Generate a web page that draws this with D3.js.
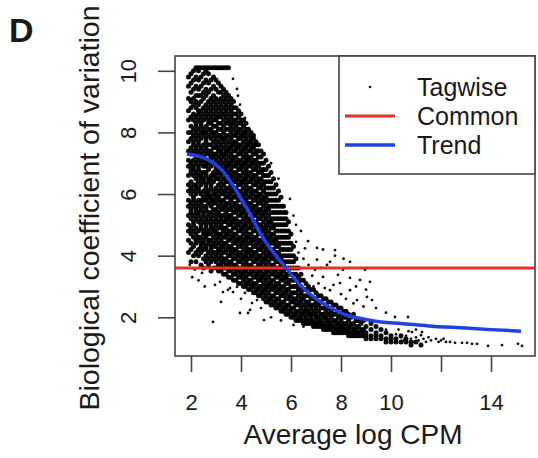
<!DOCTYPE html>
<html><head><meta charset="utf-8">
<script src="https://cdn.jsdelivr.net/npm/d3@7"></script>
<style>
body{margin:0;background:#fff}
svg{display:block}
text{font-family:"Liberation Sans",Arial,Helvetica,sans-serif;fill:#1a1a1a}
</style>
</head><body>
<svg id="chart" width="538" height="458"></svg>
<script>
// ---------- data ----------
const panelLabel = "D";
const xTitle = "Average log CPM";
const yTitle = "Biological coefficient of variation";
const xTicks = [2, 4, 6, 8, 10, 12, 14];
const xTickLabels = ["2", "4", "6", "8", "10", "", "14"];
const yTicks = [2, 4, 6, 8, 10];
const yTickLabels = ["2", "4", "6", "8", "10"];
const xLimits = [1.36, 15.76];
const yLimits = [0.744, 10.48];
const legendLabels = ["Tagwise", "Common", "Trend"];

const commonBCV = 3.6;

const trendX = [1.84, 2.2, 2.6, 3.0, 3.3, 3.6, 4.0, 4.4, 4.8, 5.3, 5.8, 6.3, 6.9, 7.5, 8.2, 9.0, 9.6, 10.4, 11.5, 13.0, 14.0, 15.2];
const trendY = [7.3, 7.25, 7.15, 6.95, 6.72, 6.38, 5.85, 5.3, 4.68, 4.1, 3.6, 3.1, 2.66, 2.35, 2.08, 1.93, 1.85, 1.8, 1.72, 1.65, 1.6, 1.55];

// tagwise BCV, dense cloud: [average log CPM, BCV values in tenths]
const tagwiseColumns = [
[1.9,[41,45,48,50,53,56,58,61,63,66,69,71,74,77,80,84,87,91,95,98]],
[2.0,[38,42,44,47,49,52,54,55,57,60,62,64,67,68,70,73,75,78,80,82,85,88,90,93,96,99]],
[2.1,[40,43,46,48,50,51,53,56,58,59,61,63,66,68,69,71,74,76,77,79,81,84,86,89,91,94,97,100]],
[2.2,[38,41,44,45,47,49,52,54,55,57,60,62,63,65,67,70,72,73,75,78,80,82,83,85,88,90,92,95,98,101]],
[2.3,[40,42,45,46,48,51,53,54,56,58,61,62,64,66,68,69,71,74,76,77,79,81,84,86,87,89,92,94,97,100,101]],
[2.4,[37,41,43,44,46,49,50,52,55,57,58,60,63,65,66,67,70,72,73,75,78,80,82,83,85,87,90,92,95,98,101]],
[2.5,[36,39,42,44,45,47,48,51,53,54,56,58,59,61,64,65,67,69,71,72,74,76,79,80,81,84,86,88,91,93,96,99,101]],
[2.6,[38,40,42,43,46,47,49,50,52,55,56,58,60,62,63,66,67,69,70,73,75,77,78,80,82,85,87,89,92,94,97,100,101]],
[2.7,[37,39,41,44,45,47,48,51,53,54,57,59,60,61,64,65,68,70,71,73,74,76,79,81,83,84,86,88,90,93,96,99,101]],
[2.8,[35,38,40,42,43,45,47,49,50,52,54,56,58,59,62,63,65,66,69,71,72,74,76,78,80,81,83,85,87,89,91,94,97,101]],
[2.9,[36,39,41,43,44,46,48,49,51,53,55,57,58,60,61,64,66,67,70,72,73,75,77,79,80,82,84,86,88,90,92,95,98,101]],
[3.0,[36,38,40,41,43,45,47,48,50,52,54,55,57,59,60,62,65,66,68,69,71,73,75,76,78,80,82,84,85,87,89,91,94,97,101]],
[3.1,[35,37,39,41,42,44,46,47,49,51,53,54,56,58,59,61,63,65,67,68,70,72,74,75,77,79,81,83,85,86,88,90,93,96,101]],
[3.2,[35,37,38,40,42,43,45,47,49,50,52,53,55,57,58,60,62,64,66,67,69,71,73,74,76,78,79,81,83,85,87,89,91,93,95,101]],
[3.3,[34,36,38,39,41,43,44,46,48,49,51,53,55,56,58,60,61,63,65,67,68,70,72,73,75,77,78,80,82,84,86,88,90,92,94,101]],
[3.4,[34,36,37,39,41,42,44,46,47,49,51,52,54,56,57,59,61,62,64,66,68,69,71,73,74,76,78,79,81,83,85,87,89,91,93,101]],
[3.5,[33,35,37,38,40,42,43,45,47,48,50,52,53,55,57,59,60,62,64,65,67,69,70,72,74,75,77,79,81,83,84,86,88,90,92,101]],
[3.6,[33,35,36,38,40,41,43,45,46,48,50,51,53,55,56,58,60,61,63,65,66,68,70,71,73,75,76,78,80,82,83,85,87,89,91]],
[3.7,[32,34,36,37,39,41,42,44,46,47,49,51,52,54,56,57,59,61,62,64,66,67,69,71,72,74,76,77,79,81,83,84,86,88,90]],
[3.8,[32,34,35,37,39,40,42,44,45,47,49,50,52,54,55,57,59,60,62,64,65,67,69,70,72,74,75,77,79,80,82,84,86,88]],
[3.9,[31,33,35,36,38,40,41,43,45,46,48,50,51,53,55,56,58,60,61,63,65,66,68,70,71,73,75,76,78,80,81,83,85,87]],
[4.0,[31,33,34,36,38,39,41,43,44,46,48,49,51,53,54,56,58,59,61,63,64,66,68,69,71,73,74,76,78,79,81,83,84,86]],
[4.1,[30,32,34,35,37,39,40,42,44,45,47,49,50,52,54,55,57,59,60,62,64,65,67,69,70,72,74,75,77,79,80,82,84]],
[4.2,[30,31,33,35,36,38,40,41,43,45,46,48,50,51,53,55,56,58,60,61,63,65,66,68,70,71,73,75,76,78,80,81,83]],
[4.3,[29,31,32,34,36,37,39,41,42,44,46,47,49,51,52,54,56,57,59,61,62,64,66,67,69,71,72,74,76,77,79,81]],
[4.4,[29,30,32,34,35,37,39,40,42,44,45,47,49,50,52,54,55,57,59,60,62,64,65,67,69,70,72,74,75,77,78,80]],
[4.5,[28,30,31,33,35,36,38,40,41,43,45,46,48,50,51,53,55,56,58,60,61,63,65,66,68,70,71,73,75,76,78,79]],
[4.6,[28,29,31,33,34,36,38,39,41,43,44,46,48,49,51,53,54,56,58,59,61,63,64,66,68,69,71,73,74,76,77]],
[4.7,[27,29,30,32,34,35,37,39,40,42,44,45,47,49,50,52,54,55,57,59,60,62,64,65,67,69,70,72,74,76]],
[4.8,[27,28,30,32,33,35,37,38,40,42,43,45,47,48,50,52,53,55,57,58,60,62,63,65,67,68,70,72,74]],
[4.9,[26,28,29,31,33,34,36,38,39,41,43,44,46,48,49,51,53,54,56,58,59,61,63,64,66,68,70,73]],
[5.0,[25,27,29,30,32,34,35,37,39,40,42,44,45,47,49,50,52,54,55,57,59,60,62,64,66,68,71]],
[5.1,[25,26,28,30,31,33,35,36,38,40,41,43,45,46,48,50,51,53,55,56,58,60,62,64,66,69]],
[5.2,[24,26,27,29,31,32,34,36,37,39,41,42,44,46,47,49,51,52,54,56,58,60,62,64,67]],
[5.3,[24,25,27,29,30,32,34,35,37,39,40,42,44,45,47,49,50,52,54,56,58,60,62,65]],
[5.4,[23,25,26,28,30,31,33,35,36,38,40,41,43,45,46,48,50,52,54,56,58,60,63]],
[5.5,[23,24,26,28,29,31,33,34,36,38,39,41,43,44,46,48,50,52,54,56,58,61]],
[5.6,[22,24,25,27,29,30,32,34,35,37,39,40,42,44,46,48,50,52,54,56,59]],
[5.7,[22,23,25,27,28,30,32,33,35,37,38,40,42,44,46,48,50,52,54,56]],
[5.8,[21,23,24,26,28,29,31,33,34,36,38,40,42,44,46,48,50,52,54]],
[5.9,[21,22,24,26,27,29,31,32,34,36,38,40,42,44,46,48,51]],
[6.0,[20,22,23,25,27,28,30,32,34,36,38,40,42,44,47]],
[6.1,[20,21,23,25,26,28,30,32,34,36,38,40,43]],
[6.2,[19,21,22,24,26,28,30,32,34,36,39]],
[6.3,[19,20,22,24,25,27,29,31,33,36]],
[6.4,[19,20,21,23,25,26,28,30,32,34]],
[6.5,[18,19,21,22,24,26,27,29,32]],
[6.6,[18,19,20,22,23,25,27,29,31]],
[6.7,[18,19,21,22,24,25,27,30]],
[6.8,[18,19,20,21,23,24,26,29]],
[6.9,[17,18,19,21,22,24,26,29]],
[7.0,[17,18,20,21,23,25,28]],
[7.1,[17,18,19,20,22,24,27]],
[7.2,[17,18,19,21,23,25,27]],
[7.3,[16,17,18,20,21,23,26]],
[7.4,[16,17,19,20,22,24,26]],
[7.5,[16,17,18,19,21,23,25]],
[7.6,[16,17,18,20,22,25]],
[7.7,[15,16,17,19,21,24]],
[7.8,[15,16,18,19,21,24]],
[7.9,[15,16,17,18,20,23]],
[8.0,[15,16,17,19,21,23]],
[8.1,[15,16,17,18,20,22]],
[8.2,[15,16,18,20,22]],
[8.3,[14,15,16,17,19,21]],
[8.4,[14,15,17,18,20]],
[8.5,[14,15,16,18,21]],
[8.6,[14,15,16,17,19]],
[8.7,[14,15,17,19]],
[8.8,[14,15,16,18]],
[8.9,[14,15,16,19]],
[9.0,[13,14,15,17]],
[9.2,[13,14,16,18]],
[9.4,[13,14,15,17]],
[9.6,[13,14,16]],
[9.8,[12,13,15]],
[10.0,[12,13,14]],
[10.2,[12,13]],
[10.4,[12,14]],
[10.6,[12,13]],
[10.8,[11,12]],
[11.0,[12]],
[11.2,[11]]
];

// tagwise BCV, scattered genes
const sparseX = [1.95,2.05,2.15,2.3,2.44,2.68,2.55,2.96,3.16,3.48,3.28,3.84,3.68,3.56,2.88,3.96,4.28,4.92,4.36,4.44,4.64,4.16,4.0,3.2,5.2,5.6,6.1,6.5,4.8,
3.68,3.84,3.88,3.96,4.16,4.24,4.28,4.48,4.68,4.76,4.88,5.2,5.5,5.96,6.1,6.2,6.4,6.68,6.56,7.04,7.28,7.76,7.76,7.56,8.36,8.96,9.16,8.76,8.36,7.96,8.36,9.04,8.64,9.24,10.16,10.68,7.56,7.28,6.96,7.04,7.44,8.08,7.88,6.5,6.7,6.85,7.1,7.35,7.7,8.0,8.2,8.5,8.9,9.4,9.8,6.3,6.9,7.2,8.6,9.0,8.1,6.2,
10.84,11.24,11.68,12.36,12.56,12.84,13.04,13.24,13.44,13.88,14.44,15.08,15.24,10.2,10.4,10.5,10.6,10.8,10.9,11.0,11.1,11.3,11.4,11.5,11.6,11.8,11.9,12.0,12.2,12.1,11.2,10.3,10.7,11.0,9.8];
const sparseY = [3.7,3.3,3.55,3.2,3.44,3.64,3.0,3.05,3.15,2.89,2.82,2.99,2.82,2.95,1.85,2.14,2.14,1.91,2.24,2.46,2.56,2.79,2.6,2.5,2.0,1.9,1.75,1.7,2.3,
9.74,9.41,9.19,8.9,8.47,8.1,7.98,7.9,7.43,7.4,6.68,7.0,6.5,5.84,5.3,5.0,4.8,4.47,4.24,4.25,4.2,4.18,4.0,3.8,3.8,3.54,3.15,3.21,3.28,3.11,2.88,2.66,2.56,2.56,2.01,2.01,2.88,3.31,3.54,3.87,3.7,3.54,3.38,3.9,3.7,3.35,3.1,2.95,3.05,2.75,2.6,2.45,2.35,2.3,2.15,4.1,3.0,3.6,3.0,2.9,3.9,4.45,
1.52,1.52,1.69,1.2,1.17,1.17,1.17,1.14,1.14,1.07,1.1,1.14,1.07,1.45,1.35,1.25,1.4,1.3,1.2,1.35,1.25,1.3,1.2,1.35,1.25,1.3,1.2,1.25,1.2,1.3,1.42,1.6,1.55,1.6,1.6];

// ---------- layout ----------
const box = {left: 175, right: 535, top: 56, bottom: 356};
const svg = d3.select("#chart");

const x = d3.scaleLinear().domain(xLimits).range([box.left, box.right]);
const y = d3.scaleLinear().domain(yLimits).range([box.bottom, box.top]);

svg.append("clipPath").attr("id", "plotclip")
  .append("rect").attr("x", box.left).attr("y", box.top)
  .attr("width", box.right - box.left).attr("height", box.bottom - box.top);

// points
const densePts = [];
tagwiseColumns.forEach(([cx, ys]) => ys.forEach(t => densePts.push([cx, t / 10])));
const gPts = svg.append("g").attr("clip-path", "url(#plotclip)");
gPts.selectAll("circle.d").data(densePts).join("circle").attr("class", "d")
  .attr("cx", d => x(d[0])).attr("cy", d => y(d[1])).attr("r", 2.5)
  .attr("fill", "#000").attr("fill-opacity", 0.95);
gPts.selectAll("circle.s").data(sparseX.map((v, i) => [v, sparseY[i]])).join("circle").attr("class", "s")
  .attr("cx", d => x(d[0])).attr("cy", d => y(d[1])).attr("r", 1.4)
  .attr("fill", "#111");

// common line
const red = "#ec2f26", blue = "#2140e6";
svg.append("line").attr("x1", box.left).attr("x2", box.right)
  .attr("y1", y(commonBCV)).attr("y2", y(commonBCV))
  .attr("stroke", red).attr("stroke-width", 3);

// trend
const line = d3.line().x(d => x(d[0])).y(d => y(d[1])).curve(d3.curveMonotoneX);
svg.append("path").datum(trendX.map((v, i) => [v, trendY[i]]))
  .attr("d", line).attr("fill", "none").attr("stroke", blue).attr("stroke-width", 3.5);

// box
const axCol = "#444";
svg.append("rect").attr("x", box.left).attr("y", box.top)
  .attr("width", box.right - box.left).attr("height", box.bottom - box.top)
  .attr("fill", "none").attr("stroke", axCol).attr("stroke-width", 1.6);

// x axis
const gx = svg.append("g").attr("transform", `translate(0,${box.bottom})`)
  .call(d3.axisBottom(x).tickValues(xTicks).tickFormat((d, i) => xTickLabels[i]).tickSize(16));
gx.select(".domain").remove();
gx.selectAll("line").attr("stroke", axCol).attr("stroke-width", 1.6);
gx.selectAll("text").attr("y", 54).attr("dy", 0).attr("font-size", 22)
  .attr("font-family", "Liberation Sans, Arial, sans-serif").attr("fill", "#1a1a1a");

// y axis
const gy = svg.append("g").attr("transform", `translate(${box.left},0)`)
  .call(d3.axisLeft(y).tickValues(yTicks).tickFormat((d, i) => yTickLabels[i]).tickSize(17));
gy.select(".domain").remove();
gy.selectAll("line").attr("stroke", axCol).attr("stroke-width", 1.6);
gy.selectAll("text").attr("x", 0).attr("dy", 0).attr("text-anchor", "middle")
  .attr("transform", "translate(-39,0) rotate(-90)").attr("font-size", 22)
  .attr("font-family", "Liberation Sans, Arial, sans-serif").attr("fill", "#1a1a1a");

// titles
svg.append("text").attr("x", (box.left + box.right) / 2 - 2).attr("y", 444)
  .attr("text-anchor", "middle").attr("font-size", 28).text(xTitle);
svg.append("text").attr("transform", `translate(99,${(box.top + box.bottom) / 2 + 2}) rotate(-90)`)
  .attr("text-anchor", "middle").attr("font-size", 28.5).text(yTitle);
svg.append("text").attr("x", 9).attr("y", 42).attr("font-size", 34).attr("font-weight", "bold")
  .text(panelLabel);

// legend
const lg = svg.append("g");
lg.append("rect").attr("x", 339).attr("y", box.top).attr("width", box.right - 339).attr("height", 118)
  .attr("fill", "#fff").attr("stroke", axCol).attr("stroke-width", 1.6);
const rowY = [87, 116, 145];
lg.append("circle").attr("cx", 370).attr("cy", rowY[0]).attr("r", 1.3).attr("fill", "#111");
lg.append("line").attr("x1", 345).attr("x2", 395).attr("y1", rowY[1]).attr("y2", rowY[1])
  .attr("stroke", red).attr("stroke-width", 3);
lg.append("line").attr("x1", 345).attr("x2", 395).attr("y1", rowY[2]).attr("y2", rowY[2])
  .attr("stroke", blue).attr("stroke-width", 3.5);
lg.selectAll("text.l").data(legendLabels).join("text").attr("class", "l")
  .attr("x", 417).attr("y", (d, i) => rowY[i] + 8.5).attr("font-size", 25).text(d => d);
</script>
</body></html>
